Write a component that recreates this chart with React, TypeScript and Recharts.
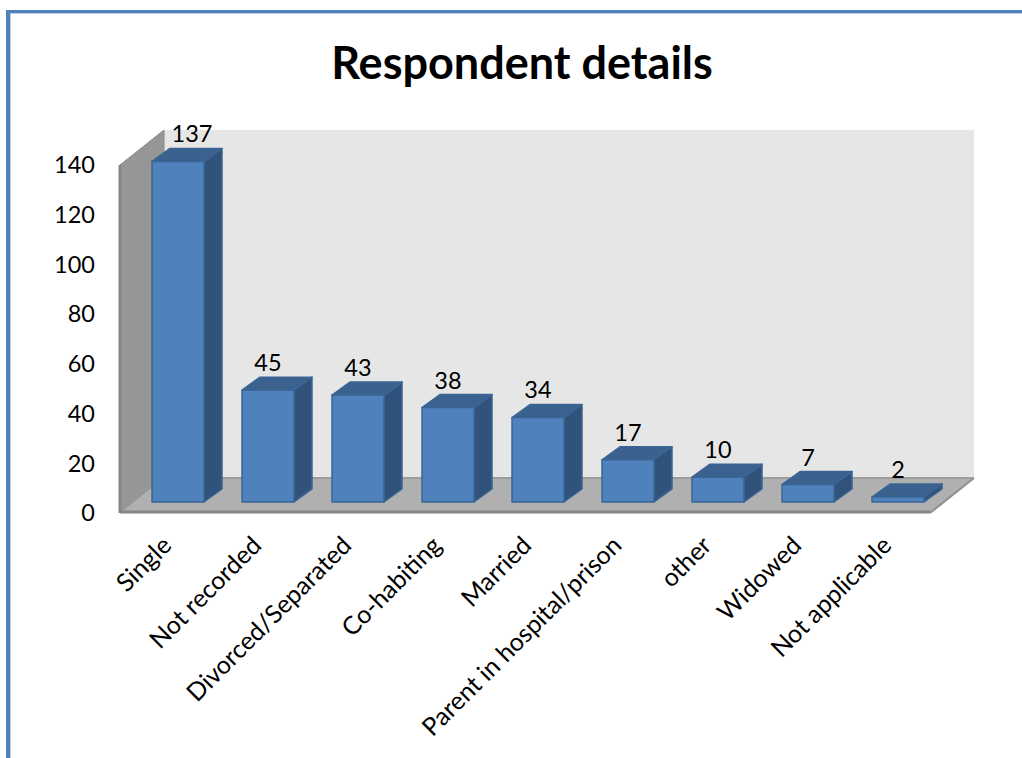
import React from "react";
import { Bar, BarChart, LabelList, XAxis, YAxis, usePlotArea } from "recharts";

const categories = [
  "Single",
  "Not recorded",
  "Divorced/Separated",
  "Co-habiting",
  "Married",
  "Parent in hospital/prison",
  "other",
  "Widowed",
  "Not applicable",
];
const counts = [137, 45, 43, 38, 34, 17, 10, 7, 2];
const yTicks = [0, 20, 40, 60, 80, 100, 120, 140];

const rows = categories.map((name, i) => ({ name, count: counts[i] }));

const FONT = "Lato, 'Open Sans', sans-serif";

// depth of the box the chart sits in, and how far the bars stand inside it
const WALL_DX = 44;
const WALL_DY = 35;
const BAR_SHIFT_X = 13;
const BAR_SHIFT_Y = 9;
const BAR_DX = 18;
const BAR_DY = 13;

const pts = (list: number[][]) => list.map((p) => p.join(",")).join(" ");

function Walls() {
  const plot = usePlotArea();
  if (!plot) return null;
  const left = plot.x;
  const right = plot.x + plot.width;
  const top = plot.y + 2;
  const bottom = plot.y + plot.height + 2;
  return (
    <g>
      <polygon
        points={pts([
          [left + WALL_DX, top - WALL_DY],
          [right + WALL_DX, top - WALL_DY],
          [right + WALL_DX, bottom - WALL_DY],
          [left + WALL_DX, bottom - WALL_DY],
        ])}
        fill="#e6e6e6"
      />
      <polygon
        points={pts([
          [left, top],
          [left + WALL_DX, top - WALL_DY],
          [left + WALL_DX, bottom - WALL_DY],
          [left, bottom],
        ])}
        fill="#969696"
        stroke="#8a8a8a"
        strokeWidth={1}
      />
      <polygon
        points={pts([
          [left, bottom],
          [right, bottom],
          [right + WALL_DX, bottom - WALL_DY],
          [left + WALL_DX, bottom - WALL_DY],
        ])}
        fill="#b0b0b0"
      />
      <line x1={left} y1={bottom - 1} x2={right} y2={bottom - 1} stroke="#868686" strokeWidth={3} />
      <line x1={right} y1={bottom} x2={right + WALL_DX} y2={bottom - WALL_DY} stroke="#8e8e8e" strokeWidth={2} />
      <line x1={left + WALL_DX} y1={bottom - WALL_DY} x2={right + WALL_DX} y2={bottom - WALL_DY} stroke="#9c9c9c" strokeWidth={2} />
      <line x1={left} y1={top} x2={left} y2={bottom} stroke="#868686" strokeWidth={3} />
    </g>
  );
}

// a column drawn as three faces: side, top, then front
function Column(props: any) {
  const { x, y, width, height } = props;
  const fx = x + BAR_SHIFT_X;
  const fy = y - BAR_SHIFT_Y;
  const fr = fx + width;
  const fb = fy + height;
  return (
    <g stroke="#3a6594" strokeWidth={1.5} strokeLinejoin="round">
      <polygon
        points={pts([
          [fr, fy],
          [fr + BAR_DX, fy - BAR_DY],
          [fr + BAR_DX, fb - BAR_DY],
          [fr, fb],
        ])}
        fill="#31527b"
      />
      <polygon
        points={pts([
          [fx, fy],
          [fx + BAR_DX, fy - BAR_DY],
          [fr + BAR_DX, fy - BAR_DY],
          [fr, fy],
        ])}
        fill="#3b618f"
      />
      <rect x={fx} y={fy} width={width} height={height} fill="#4f81bd" />
    </g>
  );
}

function CategoryTick({ x, y, payload }: any) {
  const tx = x + 8;
  const ty = y + 28;
  return (
    <text
      x={tx}
      y={ty}
      textAnchor="end"
      fontFamily={FONT}
      fontSize={25}
      fill="#000"
      transform={`rotate(-45 ${tx} ${ty})`}
    >
      {payload.value}
    </text>
  );
}

function ValueLabel({ x, y, width, value, index }: any) {
  // the tallest column's label sits over its back edge
  const nudge = index === 0 ? 14 : 0;
  return (
    <text
      x={x + width / 2 + BAR_SHIFT_X + nudge}
      y={y - BAR_SHIFT_Y - BAR_DY - 6}
      textAnchor="middle"
      fontFamily={FONT}
      fontSize={23.5}
      fill="#000"
    >
      {value}
    </text>
  );
}

export default function App() {
  return (
    <div
      style={{
        position: "absolute",
        left: 0,
        top: 0,
        width: 1022,
        height: 758,
        overflow: "hidden",
        background: "#fff",
      }}
    >
      <div style={{ position: "absolute", left: 6, top: 10, width: 1016, height: 3, background: "#4f81bd" }} />
      <div style={{ position: "absolute", left: 6, top: 10, width: 4, height: 748, background: "#4f81bd" }} />
      <div style={{ position: "absolute", left: 10, top: 13, width: 1012, height: 1, background: "#b9cde5" }} />
      <div style={{ position: "absolute", left: 10, top: 13, width: 1, height: 745, background: "#b9cde5" }} />
      <div
        style={{
          position: "absolute",
          left: 0,
          width: 1044,
          top: 36,
          textAlign: "center",
          fontFamily: FONT,
          fontWeight: 700,
          fontSize: 45,
          lineHeight: "52px",
          color: "#000",
        }}
      >
        Respondent details
      </div>
      <BarChart
        width={1022}
        height={758}
        data={rows}
        margin={{ top: 163, right: 92, bottom: 0, left: 50 }}
        barSize={52}
        style={{ position: "absolute", left: 0, top: 0 }}
      >
        <Walls />
        <XAxis
          dataKey="name"
          interval={0}
          height={247}
          axisLine={false}
          tickLine={false}
          tick={<CategoryTick />}
        />
        <YAxis
          width={70}
          domain={[0, 140]}
          ticks={yTicks}
          axisLine={false}
          tickLine={false}
          tickMargin={19}
          dy={2}
          tick={{ fill: "#000", fontSize: 23.5, fontFamily: FONT }}
        />
        <Bar dataKey="count" shape={<Column />} isAnimationActive={false}>
          <LabelList dataKey="count" content={<ValueLabel />} />
        </Bar>
      </BarChart>
    </div>
  );
}
